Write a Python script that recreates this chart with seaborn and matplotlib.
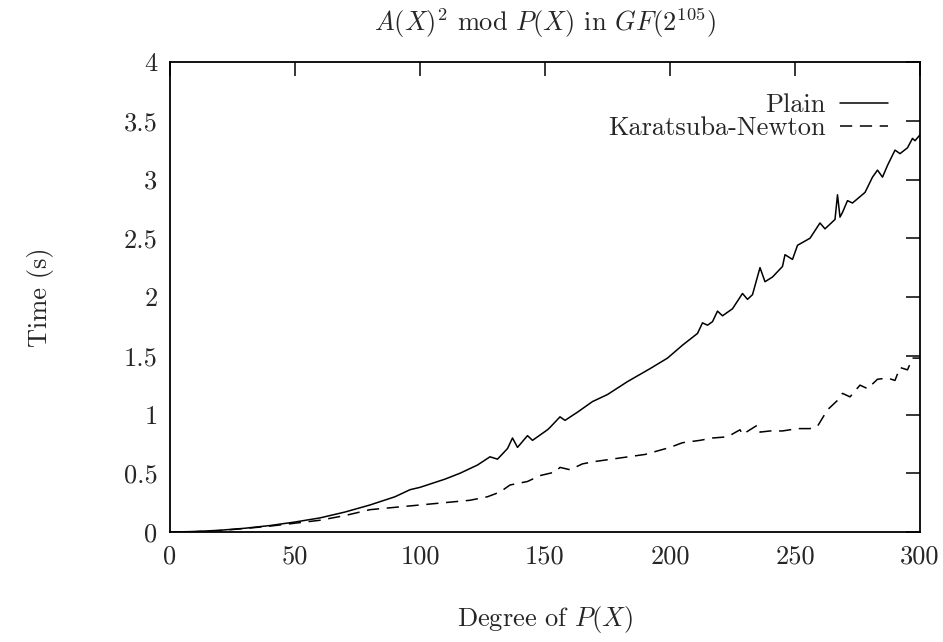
import matplotlib
matplotlib.use("Agg")
import matplotlib.pyplot as plt
import seaborn as sns
import pandas as pd

plain_deg = [0, 10, 20, 30, 40, 50, 60, 70, 80, 90, 96, 100, 110, 116, 123, 128, 131, 135, 137, 139,
             143, 145, 151, 152, 156, 158, 163, 169, 175, 183, 192, 199, 205, 211, 213, 215, 217, 219,
             221, 225, 229, 231, 233, 236, 238, 241, 245, 246, 249, 251, 256, 260, 262, 266, 267, 268,
             269, 271, 273, 278, 281, 283, 285, 287, 290, 292, 295, 297, 298, 300]
plain_time = [0.0, 0.004, 0.015, 0.032, 0.055, 0.085, 0.12, 0.17, 0.23, 0.30, 0.36, 0.38, 0.45, 0.50,
              0.57, 0.64, 0.62, 0.71, 0.80, 0.72, 0.82, 0.78, 0.87, 0.89, 0.98, 0.95, 1.02, 1.11, 1.17,
              1.28, 1.39, 1.48, 1.59, 1.69, 1.78, 1.76, 1.79, 1.88, 1.84, 1.90, 2.03, 1.98, 2.02, 2.25,
              2.13, 2.17, 2.26, 2.36, 2.32, 2.44, 2.50, 2.63, 2.58, 2.66, 2.87, 2.68, 2.72, 2.82, 2.80,
              2.89, 3.02, 3.08, 3.02, 3.12, 3.25, 3.22, 3.27, 3.35, 3.33, 3.38]

kn_deg = [0, 10, 20, 30, 40, 50, 60, 70, 80, 90, 100, 110, 120, 127, 132, 136, 143, 148, 154, 156,
          160, 165, 170, 180, 190, 200, 205, 212, 217, 223, 228, 229, 235, 236, 240, 245, 251, 256,
          259, 263, 267, 269, 272, 276, 279, 283, 287, 290, 292, 295, 297, 300]
kn_time = [0.0, 0.003, 0.012, 0.03, 0.05, 0.075, 0.10, 0.14, 0.19, 0.21, 0.23, 0.25, 0.27, 0.30, 0.34,
           0.40, 0.43, 0.48, 0.51, 0.55, 0.53, 0.58, 0.60, 0.63, 0.66, 0.72, 0.76, 0.78, 0.80, 0.81,
           0.87, 0.83, 0.91, 0.85, 0.86, 0.86, 0.88, 0.88, 0.90, 1.04, 1.12, 1.18, 1.15, 1.25, 1.22,
           1.30, 1.31, 1.29, 1.40, 1.38, 1.48, 1.48]

series_names = ["Plain", "Karatsuba-Newton"]
x_ticks = [0, 50, 100, 150, 200, 250, 300]
y_ticks = [0, 0.5, 1, 1.5, 2, 2.5, 3, 3.5, 4]
y_tick_labels = ["0", "0.5", "1", "1.5", "2", "2.5", "3", "3.5", "4"]

df = pd.concat([
    pd.DataFrame({"deg": plain_deg, "time": plain_time, "series": series_names[0]}),
    pd.DataFrame({"deg": kn_deg, "time": kn_time, "series": series_names[1]}),
], ignore_index=True)

sns.set_style("white")
plt.rcParams["font.family"] = ["cmr10", "DejaVu Serif"]
plt.rcParams["mathtext.fontset"] = "cm"
plt.rcParams["axes.formatter.use_mathtext"] = True

FS = 19
fig = plt.figure(figsize=(9.43, 6.42), dpi=100)
ax = fig.add_axes([170 / 943, 1 - 532 / 642, 750 / 943, 470 / 642])

sns.lineplot(data=df, x="deg", y="time", hue="series", style="series",
             palette={"Plain": "black", "Karatsuba-Newton": "black"},
             dashes={"Plain": "", "Karatsuba-Newton": (8, 5)},
             linewidth=1.1, ax=ax, sort=True, estimator=None)

ax.set_xlim(0, 300)
ax.set_ylim(0, 4)
ax.set_xticks(x_ticks)
ax.set_xticklabels([str(t) for t in x_ticks])
ax.set_yticks(y_ticks)
ax.set_yticklabels(y_tick_labels)
ax.tick_params(direction="in", length=10, width=1.3, top=True, right=True,
               labelsize=FS, pad=9)
for s in ax.spines.values():
    s.set_visible(True)
    s.set_color("black")
    s.set_linewidth(1.3)

ax.set_xlabel("Degree of $P(X)$", fontsize=FS, labelpad=26)
ax.set_ylabel("Time (s)", fontsize=FS, labelpad=50)
ax.set_title(r"$A(X)^2$ mod $P(X)$ in $GF(2^{105})$", fontsize=FS, pad=22)

handles, labels = ax.get_legend_handles_labels()
leg = ax.legend(handles, labels, loc="upper right", frameon=False, markerfirst=False,
                fontsize=FS, handlelength=1.8, handletextpad=0.55, labelspacing=0.0,
                bbox_to_anchor=(0.957, 0.934), borderaxespad=0, borderpad=0)

fig.savefig("out.png", dpi=100, facecolor="white")
